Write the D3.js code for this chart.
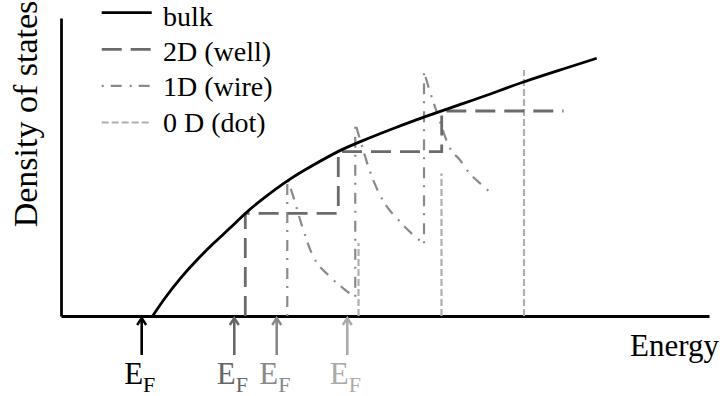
<!DOCTYPE html>
<html>
<head>
<meta charset="utf-8">
<script src="https://cdn.jsdelivr.net/npm/d3@7"></script>
<style>
  html, body { margin: 0; padding: 0; background: #fff; }
  svg { display: block; }
  text { font-family: "Liberation Serif", "Times New Roman", serif; }
</style>
</head>
<body>
<svg id="chart" width="724" height="396"></svg>
<script>
// Density of states vs energy for bulk, quantum well, wire and dot (arbitrary units)

// bulk: DOS rising from the band edge
const bulkEnergy = [1.415, 1.579, 1.836, 2.094, 2.350, 2.608, 2.840, 3.071, 3.534, 3.894, 4.306, 4.614, 5.128, 5.644, 6.157, 6.517, 7.134, 7.701, 8.267];
const bulkDos    = [0,     0.537, 1.265, 1.879, 2.440, 2.943, 3.446, 3.869, 4.621, 5.067, 5.570, 5.849, 6.299, 6.711, 7.100, 7.359, 7.862, 8.255, 8.648];

// 2D well: staircase edges and plateau heights
const wellEdges  = [2.844, 4.279, 5.875];
const wellLevels = [3.446, 5.513, 6.879];
const wellEnd    = 7.755;

// 1D wire: each subband has an onset spike followed by a decaying tail
const wireEnergy = [
  [3.492, 3.585, 3.715, 3.869, 4.151, 4.356, 4.522],
  [4.541, 4.640, 4.769, 4.949, 5.231, 5.437, 5.591],
  [5.602, 5.694, 5.798, 6.003, 6.157, 6.285, 6.466, 6.631]
];
const wireDos = [
  [4.621, 4.003, 3.054, 2.104, 1.319, 0.930, 0.648],
  [6.466, 5.738, 4.842, 3.950, 3.164, 2.718, 2.440],
  [8.198, 7.527, 6.856, 5.628, 5.235, 4.842, 4.453, 4.138]
];

// 0D dot: discrete levels
const dotEnergy = [4.591, 5.872, 7.145];
const dotDos    = [2.450, 4.789, 8.255];

// Fermi level markers
const fermiEnergy = [1.245, 2.674, 3.329, 4.418];
const fermiColors = ["#000000", "#666666", "#888888", "#aaaaaa"];

const legendLabels = ["bulk", "2D (well)", "1D (wire)", "0 D (dot)"];

const colBulk = "#000000", colWell = "#6b6b6b", colWire = "#8a8a8a", colDot = "#b0b0b0";
const styles = [
  { color: colBulk, width: 2.8, dash: null },
  { color: colWell, width: 2.8, dash: "20,9" },
  { color: colWire, width: 2.2, dash: "2,7,11,8" },
  { color: colDot,  width: 2.2, dash: "7,3" }
];

const svg = d3.select("#chart");
const x = d3.scaleLinear().domain([0, 10]).range([61, 709]);
const y = d3.scaleLinear().domain([0, 10]).range([316, 18]);

const line = d3.line().x(d => x(d[0])).y(d => y(d[1]));
const smooth = d3.line().x(d => x(d[0])).y(d => y(d[1])).curve(d3.curveMonotoneX);

// axes without ticks
const gx = svg.append("g").attr("transform", `translate(0,${y(0)})`)
  .call(d3.axisBottom(x).tickValues([]).tickSizeOuter(0));
const gy = svg.append("g").attr("transform", `translate(${x(0)},0)`)
  .call(d3.axisLeft(y).tickValues([]).tickSizeOuter(0));
[gx, gy].forEach(g => g.select(".domain").attr("stroke", "#000").attr("stroke-width", 2.8));

// 0D levels
svg.append("g").selectAll("line").data(dotEnergy).join("line")
  .attr("x1", d => x(d)).attr("x2", d => x(d))
  .attr("y1", y(0)).attr("y2", (d, i) => y(dotDos[i]))
  .attr("stroke", colDot).attr("stroke-width", styles[3].width)
  .attr("stroke-dasharray", styles[3].dash);

// 1D wire subbands: vertical onset, then a smooth tail, as one continuous path
wireEnergy.forEach((es, i) => {
  const base = i === 0 ? 0 : wireDos[i - 1][wireDos[i - 1].length - 1];
  const tail = smooth(es.map((e, j) => [e, wireDos[i][j]]));
  const d = `M${x(es[0])},${y(base)}L` + tail.slice(1);
  svg.append("path").attr("d", d)
    .attr("fill", "none").attr("stroke", colWire)
    .attr("stroke-width", styles[2].width)
    .attr("stroke-dasharray", styles[2].dash);
});

// 2D staircase
const wellPts = [[wellEdges[0], 0]];
wellEdges.forEach((e, i) => {
  wellPts.push([e, wellLevels[i]]);
  wellPts.push([i < wellEdges.length - 1 ? wellEdges[i + 1] : wellEnd, wellLevels[i]]);
});
svg.append("path").attr("d", line(wellPts))
  .attr("fill", "none").attr("stroke", colWell)
  .attr("stroke-width", styles[1].width)
  .attr("stroke-dasharray", styles[1].dash);

// bulk curve
svg.append("path")
  .attr("d", d3.line().x(d => x(d[0])).y(d => y(d[1])).curve(d3.curveBasis)(bulkEnergy.map((e, i) => [e, bulkDos[i]])))
  .attr("fill", "none").attr("stroke", colBulk).attr("stroke-width", styles[0].width);

// Fermi level arrows and labels
const fg = svg.append("g").selectAll("g").data(fermiEnergy).join("g")
  .attr("transform", d => `translate(${x(d)},0)`);
fg.append("line").attr("x1", 0).attr("x2", 0).attr("y1", 318).attr("y2", 355)
  .attr("stroke", (d, i) => fermiColors[i]).attr("stroke-width", 2.6);
fg.append("path").attr("d", "M-4.5,325L0,318L4.5,325")
  .attr("fill", "none").attr("stroke", (d, i) => fermiColors[i]).attr("stroke-width", 2.4);
const ft = fg.append("text").attr("x", -17.5).attr("y", 384)
  .attr("font-size", 31).attr("fill", (d, i) => fermiColors[i]);
ft.append("tspan").text("E");
ft.append("tspan").attr("font-size", 22).attr("dy", 7.5).text("F");

// axis titles
svg.append("text").attr("transform", "translate(37,114) rotate(-90)")
  .attr("text-anchor", "middle").attr("font-size", 34).text("Density of states");
svg.append("text").attr("x", 630).attr("y", 356).attr("font-size", 31).text("Energy");

// legend
const lg = svg.append("g").selectAll("g").data(legendLabels).join("g");
lg.append("line").attr("x1", 101.7).attr("x2", 151.7)
  .attr("y1", (d, i) => 12.7 + 36.6 * i).attr("y2", (d, i) => 12.7 + 36.6 * i)
  .attr("stroke", (d, i) => styles[i].color)
  .attr("stroke-width", (d, i) => styles[i].width)
  .attr("stroke-dasharray", (d, i) => styles[i].dash);
lg.append("text").attr("x", 163).attr("y", (d, i) => 26 + 35.2 * i)
  .attr("font-size", 28).text(d => d);
</script>
</body>
</html>
